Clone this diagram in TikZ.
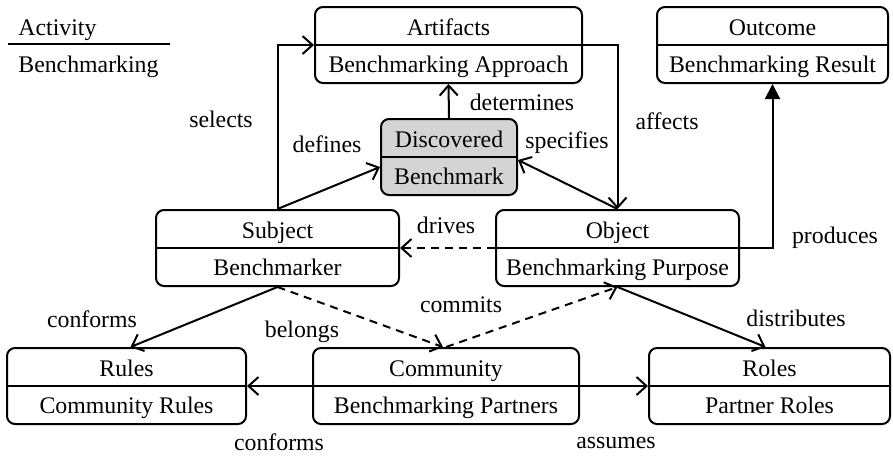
\documentclass[tikz,border=0pt]{standalone}
\usepackage{fontspec}
\setmainfont{Liberation Serif}
\usetikzlibrary{arrows.meta}
\tikzset{
  box/.style={draw, rounded corners=4pt, line width=1pt, inner sep=0pt, minimum height=38pt},
  lbl/.style={inner sep=0pt, anchor=base, font=\fontsize{11.9}{14}\selectfont},
  conn/.style={line width=1pt, -{Straight Barb[length=5pt,width=9pt,line width=1pt]}},
  dconn/.style={conn, dash pattern=on 4pt off 3pt},
  fconn/.style={line width=1pt, -{Triangle[length=7.5pt,width=7.5pt]}},
}
\newcommand\twobox[7]{%
  \node[box, minimum width=#4, #7] (#1) at (#2,#3) {};
  \draw[line width=1pt] (#1.west) -- (#1.east);
  \node[lbl] (#1-t) at ([yshift=5pt]#1.center) {#5};
  \node[lbl] (#1-b) at ([yshift=-13.5pt]#1.center) {#6};
}
\begin{document}
\begin{tikzpicture}[x=0.5pt,y=-0.5pt]
\useasboundingbox (0,0) rectangle (893,455);
% legend
\node[lbl, anchor=base west] (act) at (18,35) {Activity};
\node[lbl, anchor=base west] (bm) at (18,72) {Benchmarking};
\coordinate (l1) at (8,44);
\coordinate (l2) at (170,44);
\draw[line width=1pt] (l1) -- (l2);
% boxes
\twobox{art}{448.5}{45}{133.5pt}{Artifacts}{Benchmarking Approach}{}
\twobox{out}{772.5}{45}{115.5pt}{Outcome}{Benchmarking Result}{}
\twobox{disc}{449}{157}{68pt}{Discovered}{Benchmark}{fill=black!17}
\twobox{subj}{277.5}{248}{121.5pt}{Subject}{Benchmarker}{}
\twobox{obj}{617.5}{248}{121.5pt}{Object}{Benchmarking Purpose}{}
\twobox{rules}{126.5}{386}{119.5pt}{Rules}{Community Rules}{}
\twobox{comm}{446}{386}{133pt}{Community}{Benchmarking Partners}{}
\twobox{roles}{769.5}{386}{120.5pt}{Roles}{Partner Roles}{}
% connectors
\draw[conn] (subj.north) |- (art.west);
\draw[conn] (subj.north) -- ([yshift=-5pt]disc.west);
\draw[conn] (disc.north) -- (art.south);
\draw[conn] (art.east) -| (obj.north);
\draw[conn] (obj.north) -- ([yshift=-1.5pt]disc.east);
\draw[dconn] (obj.west) -- (subj.east);
\draw[fconn] (obj.east) -| (out.south);
\draw[conn] (subj.south) -- ([xshift=2pt]rules.north);
\draw[dconn] (subj.south) -- ([xshift=-1.5pt]comm.north);
\draw[dconn] (comm.north) -- (obj.south);
\draw[conn] (obj.south) -- ([xshift=-2pt]roles.north);
\draw[conn] (comm.west) -- (rules.east);
\draw[conn] (comm.east) -- (roles.west);
% labels
\node[lbl] (l-sel) at (221,127) {selects};
\node[lbl] (l-def) at (327,152) {defines};
\node[lbl] (l-det) at (522,110) {determines};
\node[lbl] (l-spe) at (567,148) {specifies};
\node[lbl] (l-aff) at (667,129) {affects};
\node[lbl] (l-dri) at (446,233) {drives};
\node[lbl] (l-pro) at (835,243) {produces};
\node[lbl] (l-com) at (461,312) {commits};
\node[lbl] (l-con1) at (92,327) {conforms};
\node[lbl] (l-bel) at (302,337) {belongs};
\node[lbl] (l-dis) at (796,326) {distributes};
\node[lbl] (l-con2) at (279,450) {conforms};
\node[lbl] (l-ass) at (616,448) {assumes};
\end{tikzpicture}
\end{document}
